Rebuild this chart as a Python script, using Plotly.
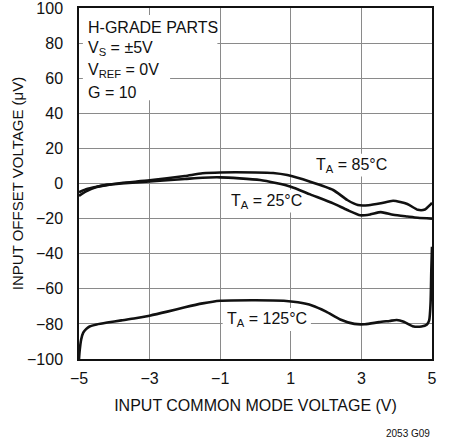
import plotly.graph_objects as go

FONT = "Liberation Sans Narrow, Arial Narrow, Liberation Sans, Arial, sans-serif"

x_85 = [-5, -4.8, -4.5, -4.2, -3.8, -3, -2, -1.5, -1, 0, 0.5, 0.9, 1.55, 2.2, 2.6, 2.9, 3.2, 3.55, 3.9, 4.3, 4.6, 4.8, 4.93, 5]
y_85 = [-7, -4.5, -2, -0.8, 0.3, 1.8, 4.3, 5.8, 6.3, 6.3, 6, 4.8, 1, -3.7, -9.4, -12.3, -12.4, -11.3, -9.8, -11.7, -15, -14.8, -12.5, -11]

x_25 = [-5, -4.8, -4.5, -4.2, -3.8, -3, -2, -1.5, -1, 0.13, 1.0, 1.55, 2.2, 2.6, 2.97, 3.25, 3.55, 3.9, 4.3, 4.6, 5]
y_25 = [-5, -3.2, -1.8, -0.8, 0, 1.2, 2.6, 3.3, 3.5, 2, -1.8, -6.2, -11.3, -15.1, -18.1, -17.6, -16.3, -17.8, -18.8, -19.5, -20]

x_125 = [-5, -4.98, -4.94, -4.88, -4.8, -4.7, -4.5, -4.2, -3.8, -3.4, -3, -2.5, -2, -1.5, -1, 0, 0.8, 1.2, 1.6, 2, 2.4, 2.8, 3.1, 3.5, 3.8, 4.0, 4.2, 4.45, 4.7, 4.85, 4.92, 4.96, 4.98, 5]
y_125 = [-100, -95, -89, -85, -83, -81.5, -80.3, -79.2, -78, -76.8, -75.3, -73, -70.5, -68.3, -66.8, -66.5, -66.8, -67.7, -69.5, -73, -77.5, -80, -80.2, -79, -78.3, -77.8, -78.8, -81.3, -81.5, -80.5, -78, -68, -50, -36]

x_ticks = [-5, -3, -1, 1, 3, 5]
y_ticks = [-100, -80, -60, -40, -20, 0, 20, 40, 60, 80, 100]

fig = go.Figure()
for xs, ys in [(x_85, y_85), (x_25, y_25), (x_125, y_125)]:
    fig.add_trace(go.Scatter(x=xs, y=ys, mode="lines",
                             line=dict(color="#111111", width=2.6, shape="spline", smoothing=0.6),
                             showlegend=False, hoverinfo="skip"))

# white areas behind the text block
fig.add_shape(type="rect", x0=-4.89, x1=-1.08, y0=70, y1=96, layer="between",
              fillcolor="white", line=dict(width=0))
fig.add_shape(type="rect", x0=-4.89, x1=-2.42, y0=47.5, y1=70, layer="between",
              fillcolor="white", line=dict(width=0))
# white areas behind the temperature labels (drawn below the curves)
for cx, cy, hw in [(2.72, 10.5, 1.1), (0.3, -10.0, 1.1), (0.32, -77.5, 1.25)]:
    fig.add_shape(type="rect", x0=cx - hw, x1=cx + hw, y0=cy - 6.5, y1=cy + 6.5, layer="between",
                  fillcolor="white", line=dict(width=0))

TS = 16
for yy, txt in [(89, "H-GRADE PARTS"), (77, "V<sub>S</sub> = ±5V"),
                (64.5, "V<sub>REF</sub> = 0V"), (52, "G = 10")]:
    fig.add_annotation(x=-4.8, y=yy, xref="x", yref="y", xanchor="left", yanchor="middle",
                       text=txt, showarrow=False, font=dict(size=TS, color="#111", family=FONT))

for tx, ty, txt in [(2.72, 10.5, "T<sub>A</sub> = 85°C"),
                    (0.3, -10.0, "T<sub>A</sub> = 25°C"),
                    (0.32, -77.5, "T<sub>A</sub> = 125°C")]:
    fig.add_annotation(x=tx, y=ty, xref="x", yref="y", text=txt, showarrow=False,
                       font=dict(size=TS, color="#111", family=FONT))

fig.add_annotation(x=1.0, y=0, xref="paper", yref="paper", xanchor="right", yanchor="bottom",
                   yshift=-82, xshift=0, text="2053 G09", showarrow=False,
                   font=dict(size=10, color="#111", family=FONT))

fig.update_xaxes(range=[-5, 5], tickvals=x_ticks, showgrid=True, gridcolor="#8a8a8a", gridwidth=1,
                 zeroline=False, showline=True, linecolor="#111", linewidth=1.5, mirror=True,
                 ticks="", ticklabelstandoff=4, automargin=False, ticklabeloverflow="allow",
                 tickfont=dict(size=16, color="#111", family=FONT),
                 title=dict(text="INPUT COMMON MODE VOLTAGE (V)", standoff=14,
                            font=dict(size=16, color="#111", family=FONT)))
fig.update_yaxes(range=[-100, 100], tickvals=y_ticks, showgrid=True, gridcolor="#8a8a8a", gridwidth=1,
                 zeroline=False, showline=True, linecolor="#111", linewidth=1.5, mirror=True,
                 ticks="", ticklabelstandoff=11, automargin=False, ticklabeloverflow="allow",
                 tickfont=dict(size=16, color="#111", family=FONT),
                 title=dict(text="INPUT OFFSET VOLTAGE (μV)", standoff=0,
                            font=dict(size=15, color="#111", family=FONT)))

fig.update_layout(width=453, height=446, margin=dict(l=79, r=21, t=8, b=87),
                  plot_bgcolor="white", paper_bgcolor="white")

fig.write_html("out.html", config={"displayModeBar": False},
               post_script="document.body.style.margin='0';")
